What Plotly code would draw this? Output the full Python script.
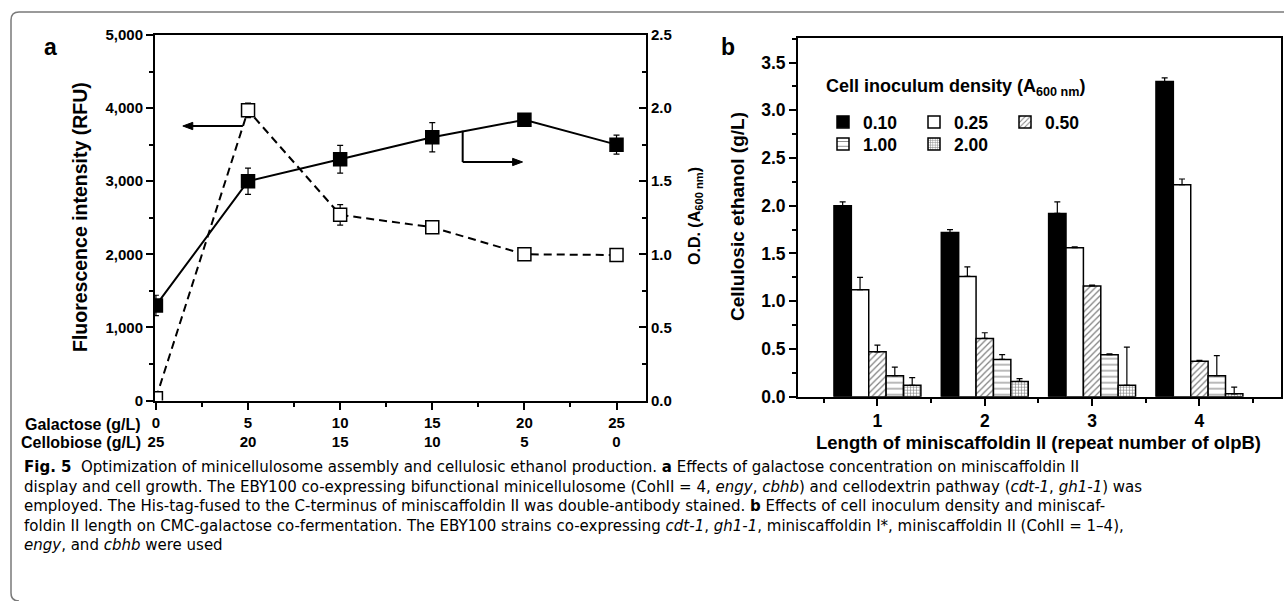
import plotly.graph_objects as go

W, H = 1284, 601
def X(px): return px / W
def Y(py): return 1 - py / H

# ---------------- Panel a data ----------------
galactose = [0, 5, 10, 15, 20, 25]
cellobiose = [25, 20, 15, 10, 5, 0]
fluorescence = [30, 3970, 2540, 2370, 2000, 1990]
fluorescence_err = [0, 100, 140, 40, 30, 30]
od600 = [0.65, 1.50, 1.65, 1.80, 1.92, 1.75]
od600_err = [0.07, 0.09, 0.095, 0.10, 0.01, 0.065]

# ---------------- Panel b data ----------------
olpb_repeats = [1, 2, 3, 4]
density_labels = ["0.10", "0.25", "0.50", "1.00", "2.00"]
ethanol_010 = [2.00, 1.72, 1.92, 3.30]
ethanol_010_err = [0.04, 0.03, 0.12, 0.04]
ethanol_025 = [1.12, 1.26, 1.56, 2.22]
ethanol_025_err = [0.13, 0.10, 0.01, 0.06]
ethanol_050 = [0.47, 0.61, 1.16, 0.37]
ethanol_050_err = [0.07, 0.06, 0.01, 0.01]
ethanol_100 = [0.22, 0.39, 0.44, 0.22]
ethanol_100_err = [0.09, 0.05, 0.01, 0.21]
ethanol_200 = [0.12, 0.16, 0.12, 0.03]
ethanol_200_err = [0.08, 0.03, 0.40, 0.07]

FONT = "Liberation Sans, Arial, sans-serif"
CAP_FONT = "DejaVu Sans, sans-serif"

fig = go.Figure()

# Panel a traces
fig.add_trace(go.Scatter(
    x=galactose, y=fluorescence, xaxis="x", yaxis="y", mode="lines+markers",
    line=dict(color="black", width=2, dash="8px,5px"),
    marker=dict(symbol="square", size=13, color="white", line=dict(color="black", width=1.5)),
    error_y=dict(type="data", array=fluorescence_err, color="black", thickness=1.2, width=3),
    showlegend=False, name="Fluorescence"))
fig.add_trace(go.Scatter(
    x=galactose, y=od600, xaxis="x", yaxis="y2", mode="lines+markers",
    line=dict(color="black", width=2),
    marker=dict(symbol="square", size=13, color="black", line=dict(color="black", width=1.5)),
    error_y=dict(type="data", array=od600_err, color="black", thickness=1.2, width=3),
    showlegend=False, name="O.D."))

# Panel b bars
series = [
    (ethanol_010, ethanol_010_err, dict(color="black")),
    (ethanol_025, ethanol_025_err, dict(color="white")),
    (ethanol_050, ethanol_050_err, dict(color="white", pattern=dict(shape="/", fgcolor="black", bgcolor="white", size=4.5, solidity=0.28))),
    (ethanol_100, ethanol_100_err, dict(color="white", pattern=dict(shape="-", fgcolor="black", bgcolor="white", size=6, solidity=0.18))),
    (ethanol_200, ethanol_200_err, dict(color="white", pattern=dict(shape="+", fgcolor="black", bgcolor="white", size=3, solidity=0.35))),
]
for i, (vals, errs, mk) in enumerate(series):
    mk = dict(mk)
    mk["line"] = dict(color="black", width=1.5)
    fig.add_trace(go.Bar(
        x=olpb_repeats, y=vals, xaxis="x2", yaxis="y3", name=density_labels[i],
        marker=mk,
        error_y=dict(type="data", symmetric=False, array=errs, arrayminus=[0] * len(errs),
                     color="black", thickness=1.2, width=3),
        legend="legend" if i < 3 else "legend2"))

tickfont_a = dict(family=FONT, size=15, color="black", weight="bold")
tickfont_b = dict(family=FONT, size=17.5, color="black", weight="bold")
axis_common = dict(showgrid=False, zeroline=False, showline=True, linecolor="black", linewidth=2,
                   tickcolor="black", tickwidth=2, automargin=False)
minor_out = dict(ticks="outside", ticklen=4, tickwidth=2, tickcolor="black")
minor_in = dict(ticks="inside", ticklen=4, tickwidth=2, tickcolor="black")

legend_font = dict(family=FONT, size=17.5, color="black", weight="bold")
fig.update_layout(
    width=W, height=H, margin=dict(l=0, r=0, t=0, b=0, autoexpand=False),
    paper_bgcolor="white", plot_bgcolor="white",
    barmode="group", bargap=0.19, bargroupgap=0,
    font=dict(family=FONT, color="black"),
    xaxis=dict(domain=[X(155), X(646)], anchor="y", range=[-0.05, 26.6],
               tickvals=galactose,
               ticktext=[f"{g}<br>{c}" for g, c in zip(galactose, cellobiose)],
               ticks="outside", ticklen=7, mirror=True, tickfont=tickfont_a,
               minor=dict(dtick=2.5, tick0=0, **minor_out), **axis_common),
    yaxis=dict(domain=[Y(400.5), Y(35)], anchor="x", range=[0, 5000], dtick=1000,
               tickformat=",", ticks="outside", ticklen=7, tickfont=tickfont_a,
               minor=dict(dtick=500, **minor_out), **axis_common),
    yaxis2=dict(overlaying="y", side="right", anchor="x", range=[0, 2.5], dtick=0.5,
                tickformat=".1f", ticks="inside", ticklen=7, tickfont=tickfont_a,
                minor=dict(dtick=0.25, **minor_in), **axis_common),
    xaxis2=dict(domain=[X(798), X(1281)], anchor="y3", range=[0.26, 4.76],
                tickvals=olpb_repeats, ticks="outside", ticklen=7, mirror=True, tickfont=tickfont_b,
                minor=dict(dtick=0.5, tick0=0, **minor_out), **axis_common),
    yaxis3=dict(domain=[Y(396.7), Y(37.7)], anchor="x2", range=[0, 3.76], dtick=0.5,
                tickformat=".1f", ticks="outside", ticklen=7, mirror=True, tickfont=tickfont_b,
                minor=dict(dtick=0.25, **minor_out), **axis_common),
    legend=dict(x=X(823), y=Y(104), xanchor="left", yanchor="top", orientation="h",
                bgcolor="rgba(0,0,0,0)", entrywidth=46, entrywidthmode="pixels",
                font=legend_font, traceorder="normal"),
    legend2=dict(x=X(823), y=Y(126), xanchor="left", yanchor="top", orientation="h",
                 bgcolor="rgba(0,0,0,0)", entrywidth=46, entrywidthmode="pixels",
                 font=legend_font, traceorder="normal"),
)

annots = []
def txt(x, y, text, size=16, angle=0, xanchor="center", family=FONT, bold=True, align="center"):
    annots.append(dict(x=x, y=y, xref="paper", yref="paper", text=text, showarrow=False, textangle=angle,
                       xanchor=xanchor, yanchor="middle", align=align,
                       font=dict(family=family, size=size, color="black", weight="bold" if bold else "normal")))

# panel letters
txt(X(50), Y(47), "a", size=23)
txt(X(728), Y(47), "b", size=23)
# axis titles
txt(X(80), Y(217), "Fluorescence intensity (RFU)", size=19.5, angle=-90)
txt(X(695), Y(216), "O.D. (A<sub>600 nm</sub>)", size=16, angle=-90)
txt(X(737), Y(217), "Cellulosic ethanol (g/L)", size=19, angle=-90)
txt(X(1038), Y(442), "Length of miniscaffoldin II (repeat number of olpB)", size=18.5)
txt(X(143), Y(424), "Galactose (g/L)", size=16, xanchor="right")
txt(X(143), Y(442), "Cellobiose (g/L)", size=16, xanchor="right")
# legend heading
txt(X(824), Y(88), "Cell inoculum density (A<sub>600 nm</sub>)", size=18, xanchor="left", align="left")

# caption
caption = [
    "<b>Fig. 5</b>\u00a0\u00a0Optimization of minicellulosome assembly and cellulosic ethanol production. <b>a</b> Effects of galactose concentration on miniscaffoldin II",
    "display and cell growth. The EBY100 co-expressing bifunctional minicellulosome (CohII = 4, <i>engy</i>, <i>cbhb</i>) and cellodextrin pathway (<i>cdt-1</i>, <i>gh1-1</i>) was",
    "employed. The His-tag-fused to the C-terminus of miniscaffoldin II was double-antibody stained. <b>b</b> Effects of cell inoculum density and miniscaf-",
    "foldin II length on CMC-galactose co-fermentation. The EBY100 strains co-expressing <i>cdt-1</i>, <i>gh1-1</i>, miniscaffoldin I*, miniscaffoldin II (CohII = 1–4),",
    "<i>engy</i>, and <i>cbhb</i> were used",
]
txt(X(22), Y(506), "<br>".join(caption), size=15, xanchor="left", family=CAP_FONT, bold=False, align="left")

fig.update_layout(annotations=annots)

# arrows in panel a (data units of the left axis)
arrow_line = dict(color="black", width=2)
shapes = [
    dict(type="line", xref="x", yref="y", x0=4.72, x1=1.9, y0=3755, y1=3755, line=arrow_line),
    dict(type="path", xref="x", yref="y", path="M 1.46,3755 L 2.0,3805 L 2.0,3705 Z",
         fillcolor="black", line=dict(color="black", width=1)),
    dict(type="line", xref="x", yref="y", x0=16.65, x1=16.65, y0=3690, y1=3263, line=arrow_line),
    dict(type="line", xref="x", yref="y", x0=16.65, x1=19.4, y0=3263, y1=3263, line=arrow_line),
    dict(type="path", xref="x", yref="y", path="M 19.9,3263 L 19.36,3313 L 19.36,3213 Z",
         fillcolor="black", line=dict(color="black", width=1)),
    dict(type="path", xref="paper", yref="paper",
         path=(f"M {X(1290)},{Y(12)} L {X(19)},{Y(12)} Q {X(11)},{Y(12)} {X(11)},{Y(20)} "
               f"L {X(11)},{Y(593)} Q {X(11)},{Y(601)} {X(19)},{Y(601)}"),
         line=dict(color="#7a7a7a", width=1.5)),
]
fig.update_layout(shapes=shapes)

fig.write_html("out.html")
